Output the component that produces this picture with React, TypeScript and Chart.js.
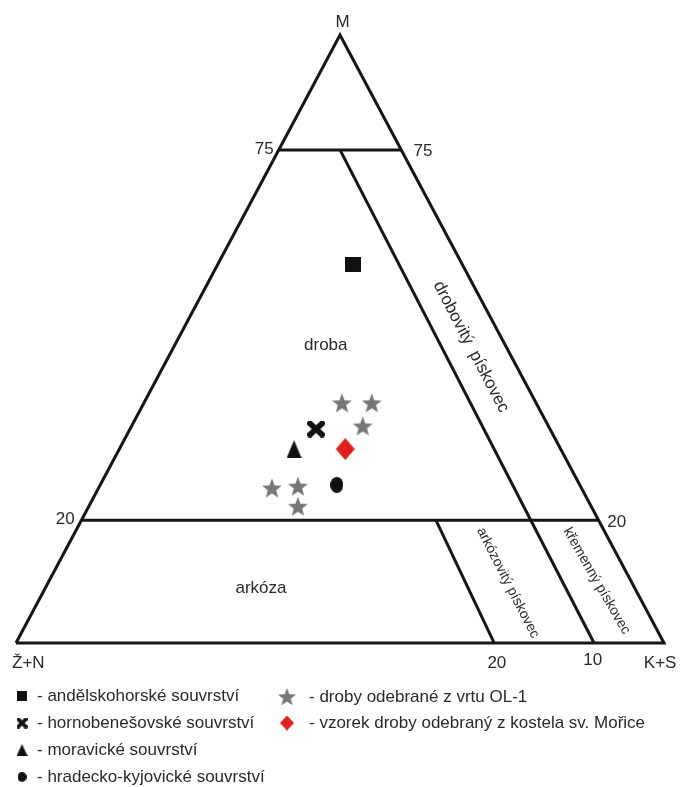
import { useEffect, useRef } from "react";
import { Chart, registerables } from "chart.js";

Chart.register(...registerables);

// ---- Diagram geometry (diagram units: X along base 0..100, Y height 0..100) ----
const outline: number[][] = [[0, 0], [100, 0], [50, 100], [0, 0]];
const line75: number[][] = [[40.55, 81.1], [59.45, 81.1]];
const line20: number[][] = [[10.1, 20.2], [89.9, 20.2]];
const lineTen: number[][] = [[50, 81.1], [89.2, 0]];
const lineTwenty: number[][] = [[64.8, 20.2], [73.8, 0]];

// ---- Samples ----
const andelskohorske: number[][] = [[52.0, 62.2]];
const hornobenesovske: number[][] = [[46.3, 35.2]];
const moravicke: number[][] = [[42.9, 31.9]];
const hradeckoKyjovicke: number[][] = [[49.5, 26.0]];
const vrtOL1: number[][] = [
  [50.3, 39.5],
  [54.9, 39.5],
  [53.5, 35.7],
  [39.5, 25.5],
  [43.5, 25.8],
  [43.5, 22.5],
];
const kostelMorice: number[][] = [[50.8, 31.9]];

// ---- Labels ----
const vertexLabels: [string, number, number][] = [
  ["M", 50.4, 102.1],
  ["Ž+N", 1.9, -3.3],
  ["K+S", 99.4, -3.3],
];
const tickLabels: [string, number, number][] = [
  ["75", 38.3, 81.25],
  ["75", 62.8, 80.8],
  ["20", 7.6, 20.4],
  ["20", 92.7, 19.9],
  ["20", 74.2, -3.3],
  ["10", 89.0, -2.9],
];
const fieldLabels: [string, number, number][] = [
  ["droba", 47.8, 49.0],
  ["arkóza", 37.8, 9.0],
];
const rotatedLabels: [string, number, number, number, number][] = [
  ["drobovitý  pískovec", 70.2, 48.7, 62.5, 17],
  ["arkózovitý pískovec", 75.9, 9.9, 63, 14],
  ["křemenný pískovec", 89.6, 10.2, 60, 14],
];
const legendLabels: string[] = [
  "andělskohorské souvrství",
  "hornobenešovské souvrství",
  "moravické souvrství",
  "hradecko-kyjovické souvrství",
  "droby odebrané z vrtu OL-1",
  "vzorek droby odebraný z kostela sv. Mořice",
];

const FONT = '"Liberation Sans", Arial, sans-serif';
const LINE_COLOR = "#161616";
const TEXT_COLOR = "#2a2a2a";

function mk(w: number, h: number, draw: (g: CanvasRenderingContext2D) => void) {
  const c = document.createElement("canvas");
  c.width = w;
  c.height = h;
  const g = c.getContext("2d")!;
  draw(g);
  return c;
}
function starImg(R: number, color: string) {
  const w = Math.ceil(2 * R * Math.cos(Math.PI / 10)) + 2;
  const h = Math.ceil(R * (1 + Math.cos(Math.PI / 5))) + 2;
  return mk(w, h, (g) => {
    g.fillStyle = color;
    g.beginPath();
    const cx = w / 2;
    const cy = 1 + R;
    const r = R * 0.42;
    for (let i = 0; i < 10; i++) {
      const a = -Math.PI / 2 + (i * Math.PI) / 5;
      const rr = i % 2 ? r : R;
      g.lineTo(cx + rr * Math.cos(a), cy + rr * Math.sin(a));
    }
    g.closePath();
    g.fill();
  });
}
function squareImg(w: number, h: number) {
  return mk(w, h, (g) => {
    g.fillStyle = "#111";
    g.fillRect(0, 0, w, h);
  });
}
function crossImg(w: number, h: number) {
  return mk(w, h, (g) => {
    g.strokeStyle = "#111";
    g.lineWidth = Math.min(w, h) * 0.34;
    g.lineCap = "round";
    const m = g.lineWidth / 2;
    g.beginPath();
    g.moveTo(m, m);
    g.lineTo(w - m, h - m);
    g.moveTo(w - m, m);
    g.lineTo(m, h - m);
    g.stroke();
  });
}
function triangleImg(w: number, h: number) {
  return mk(w, h, (g) => {
    g.fillStyle = "#111";
    g.beginPath();
    g.moveTo(w / 2, 0);
    g.lineTo(w, h);
    g.lineTo(0, h);
    g.closePath();
    g.fill();
  });
}
function ellipseImg(w: number, h: number) {
  return mk(w, h, (g) => {
    g.fillStyle = "#111";
    g.beginPath();
    g.ellipse(w / 2, h / 2, w / 2, h / 2, 0, 0, Math.PI * 2);
    g.fill();
  });
}
function diamondImg(w: number, h: number) {
  return mk(w, h, (g) => {
    g.fillStyle = "#e1201c";
    g.beginPath();
    g.moveTo(w / 2, 0);
    g.lineTo(w, h / 2);
    g.lineTo(w / 2, h);
    g.lineTo(0, h / 2);
    g.closePath();
    g.fill();
  });
}

const toXY = (arr: number[][]) => arr.map(([x, y]) => ({ x, y }));

export default function App() {
  const ref = useRef<HTMLCanvasElement>(null);
  useEffect(() => {
    document.body.style.margin = "0";
    const canvas = ref.current!;

    const mSquare = squareImg(16, 15);
    const mCross = crossImg(18, 17);
    const mTri = triangleImg(15, 18);
    const mCircle = ellipseImg(13, 16);
    const mStar = starImg(10.5, "#777777");
    const mDiamond = diamondImg(19, 22);

    const legendItems = [
      { label: legendLabels[0], img: squareImg(10, 10), mx: 22, tx: 37, y: 696 },
      { label: legendLabels[1], img: crossImg(11, 11), mx: 22, tx: 37, y: 723 },
      { label: legendLabels[2], img: triangleImg(11, 12), mx: 22, tx: 37, y: 750 },
      { label: legendLabels[3], img: ellipseImg(9, 10), mx: 22, tx: 37, y: 777 },
      { label: legendLabels[4], img: starImg(9.5, "#777777"), mx: 287, tx: 309, y: 697 },
      { label: legendLabels[5], img: diamondImg(14, 15), mx: 287, tx: 309, y: 723 },
    ];

    const lineDs = (data: number[][]) => ({
      type: "line" as const,
      data: toXY(data),
      borderColor: LINE_COLOR,
      borderWidth: 3,
      pointRadius: 0,
      showLine: true,
      fill: false,
      tension: 0,
      clip: false as any,
      borderJoinStyle: "miter" as const,
    });
    const ptDs = (label: string, data: number[][], img: HTMLCanvasElement) => ({
      type: "scatter" as const,
      label,
      data: toXY(data),
      pointStyle: img,
      pointRadius: 8,
      clip: false as any,
    });

    const textPlugin = {
      id: "ternaryText",
      afterDatasetsDraw(chart: any) {
        const { ctx, scales } = chart;
        const px = (x: number) => scales.x.getPixelForValue(x);
        const py = (y: number) => scales.y.getPixelForValue(y);
        ctx.save();
        ctx.fillStyle = TEXT_COLOR;
        ctx.textAlign = "center";
        ctx.textBaseline = "middle";
        ctx.font = `17px ${FONT}`;
        [...vertexLabels, ...tickLabels, ...fieldLabels].forEach(([t, x, y]) => {
          ctx.fillText(t, px(x), py(y));
        });
        rotatedLabels.forEach(([t, x, y, ang, size]) => {
          ctx.save();
          ctx.translate(px(x), py(y));
          ctx.rotate((ang * Math.PI) / 180);
          ctx.font = `${size}px ${FONT}`;
          ctx.fillText(t, 0, 0);
          ctx.restore();
        });
        // legend
        ctx.font = `17px ${FONT}`;
        ctx.textAlign = "left";
        legendItems.forEach((it) => {
          ctx.drawImage(it.img, it.mx - it.img.width / 2, it.y - it.img.height / 2);
          ctx.fillText("- " + it.label, it.tx, it.y);
        });
        ctx.restore();
      },
    };

    const chart = new Chart(canvas, {
      type: "scatter",
      data: {
        datasets: [
          lineDs(outline),
          lineDs(line75),
          lineDs(line20),
          lineDs(lineTen),
          lineDs(lineTwenty),
          ptDs(legendLabels[0], andelskohorske, mSquare),
          ptDs(legendLabels[1], hornobenesovske, mCross),
          ptDs(legendLabels[2], moravicke, mTri),
          ptDs(legendLabels[3], hradeckoKyjovicke, mCircle),
          ptDs(legendLabels[4], vrtOL1, mStar),
          ptDs(legendLabels[5], kostelMorice, mDiamond),
        ] as any,
      },
      options: {
        animation: false,
        responsive: true,
        maintainAspectRatio: false,
        layout: { padding: 0, autoPadding: false },
        scales: {
          x: { type: "linear", min: -2.469, max: 102.62, display: false },
          y: { type: "linear", min: -23.68, max: 105.76, display: false },
        },
        plugins: {
          legend: { display: false },
          tooltip: { enabled: false },
        },
      },
      plugins: [textPlugin],
    });
    return () => chart.destroy();
  }, []);

  return (
    <div style={{ width: 681, height: 787, position: "relative", background: "#fff" }}>
      <canvas ref={ref} />
    </div>
  );
}
